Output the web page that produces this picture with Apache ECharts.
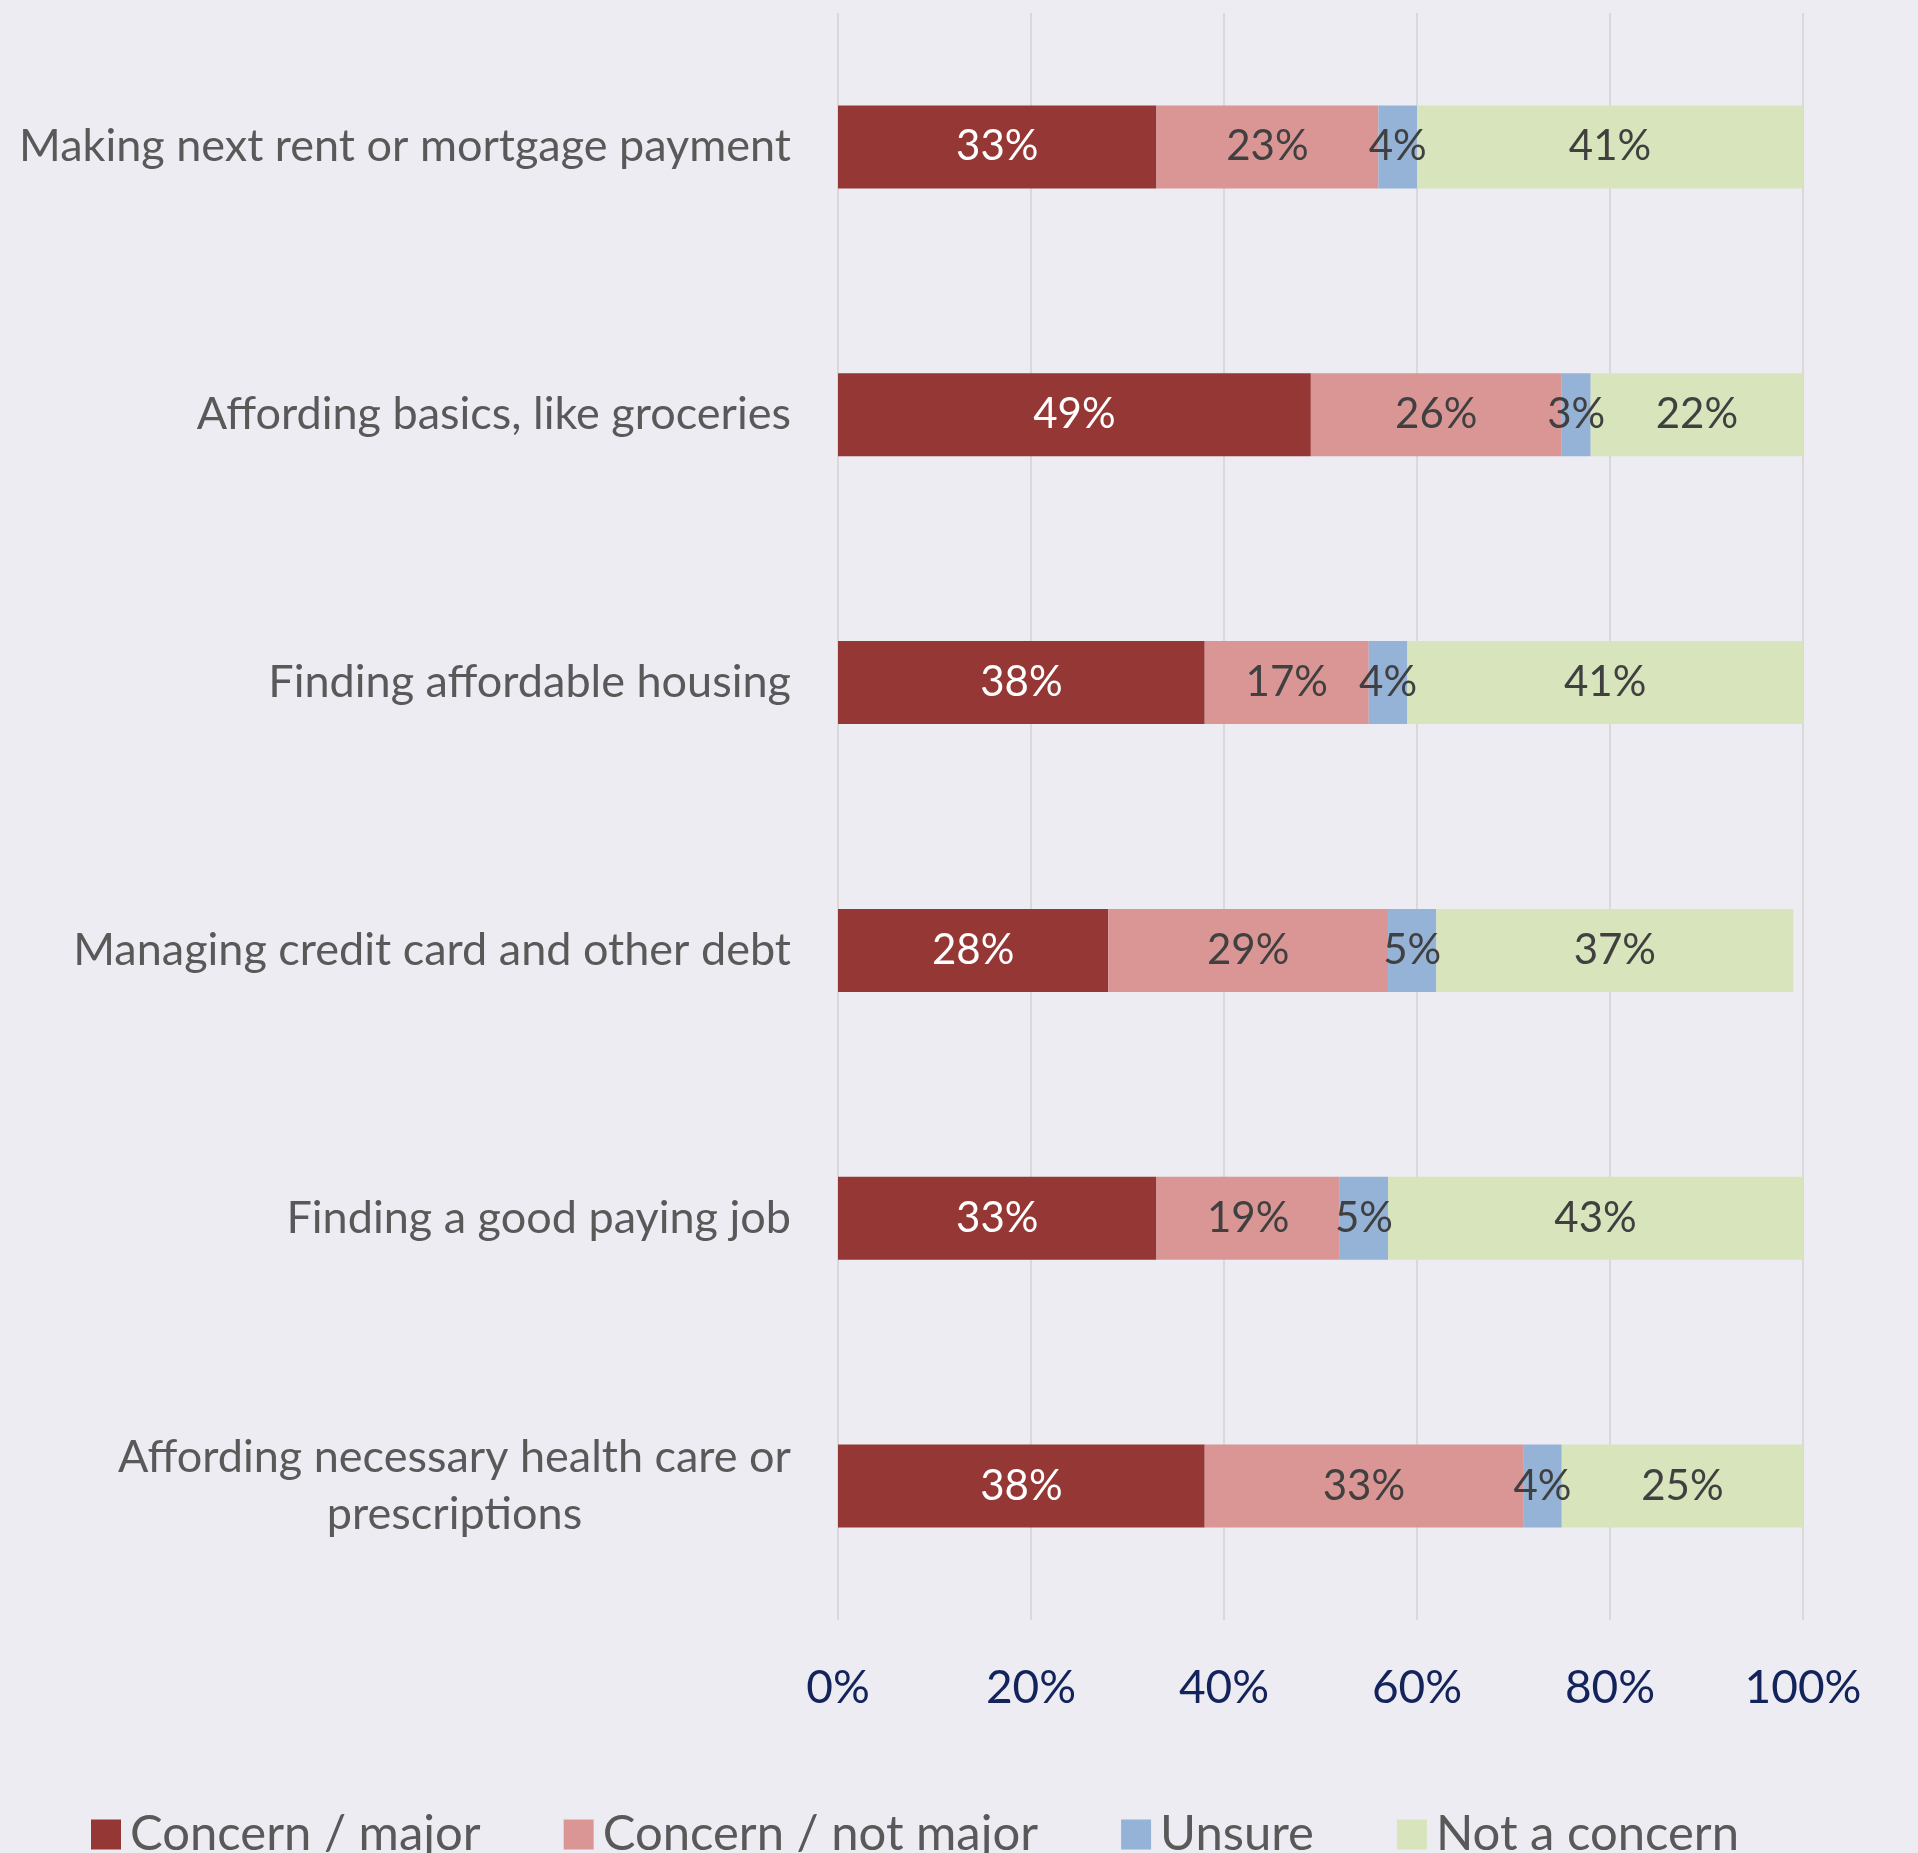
<!DOCTYPE html>
<html>
<head>
<meta charset="utf-8">
<script src="https://cdn.jsdelivr.net/npm/echarts@6/dist/echarts.min.js"></script>
<style>
  html, body { margin: 0; padding: 0; background: #EDECF2; }
  #chart { width: 1918px; height: 1853px; }
</style>
</head>
<body>
<div id="chart"></div>
<script>
// categories, top to bottom as in the picture
var categories = [
  'Making next rent or mortgage payment',
  'Affording basics, like groceries',
  'Finding affordable housing',
  'Managing credit card and other debt',
  'Finding a good paying job',
  'Affording necessary health care or\nprescriptions'
];
var seriesNames = ['Concern / major', 'Concern / not major', 'Unsure', 'Not a concern'];
var concernMajor    = [33, 49, 38, 28, 33, 38];
var concernNotMajor = [23, 26, 17, 29, 19, 33];
var unsure          = [4, 3, 4, 5, 5, 4];
var notConcern      = [41, 22, 41, 37, 43, 25];
var tickLabels = ['0%', '20%', '40%', '60%', '80%', '100%'];

var colors = ['#953735', '#DA9694', '#95B3D7', '#D8E4BC'];
var labelColors = ['#FFFFFF', '#404040', '#404040', '#404040'];
var FONT = 'Lato';

window.onload = function () {
  var chart = echarts.init(document.getElementById('chart'));
  var allData = [concernMajor, concernNotMajor, unsure, notConcern];

  var series = allData.map(function (d, i) {
    return {
      name: seriesNames[i],
      type: 'bar',
      stack: 'total',
      barWidth: 83,
      clip: true,
      data: d,
      itemStyle: { color: colors[i] },
      label: {
        show: true,
        position: 'inside',
        formatter: '{c}%',
        color: labelColors[i],
        fontFamily: FONT,
        fontSize: 42
      }
    };
  });

  chart.setOption({
    backgroundColor: '#EDECF2',
    animation: false,
    grid: { left: 838, right: 115, top: 13, height: 1607, containLabel: false },
    legend: {
      data: seriesNames,
      left: 86,
      top: 1805,
      itemWidth: 30,
      itemHeight: 30,
      itemGap: 83,
      icon: 'rect',
      textStyle: { color: '#595959', fontFamily: FONT, fontSize: 49, padding: [0, 0, 0, 4] }
    },
    xAxis: {
      type: 'value',
      min: 0,
      max: 100,
      interval: 20,
      axisLine: { show: false },
      axisTick: { show: false },
      splitLine: { lineStyle: { color: '#D9D9D9', width: 2 } },
      axisLabel: {
        margin: 45,
        color: '#13235B',
        fontFamily: FONT,
        fontSize: 46,
        formatter: function (v) { return tickLabels[v / 20]; }
      }
    },
    yAxis: {
      type: 'category',
      inverse: true,
      data: categories,
      axisLine: { show: false },
      axisTick: { show: false },
      axisLabel: {
        margin: 47,
        color: '#595959',
        fontFamily: FONT,
        fontSize: 45,
        lineHeight: 57,
        formatter: function (v) {
          return v.split('\n').map(function (s) { return '{c|' + s + '}'; }).join('\n');
        },
        rich: { c: { align: 'center', fontFamily: FONT, fontSize: 45, color: '#595959', lineHeight: 57 } }
      }
    },
    series: series
  });
};
</script>
</body>
</html>
